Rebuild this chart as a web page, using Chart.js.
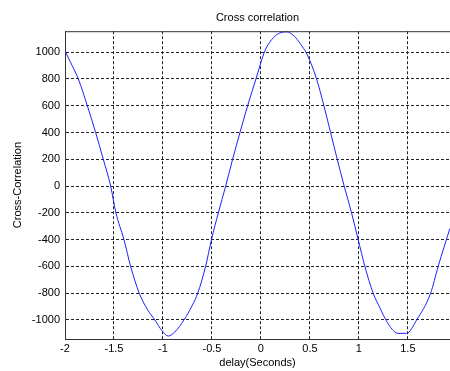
<!DOCTYPE html>
<html>
<head>
<meta charset="utf-8">
<script src="https://cdn.jsdelivr.net/npm/chart.js@4/dist/chart.umd.min.js"></script>
<style>
  html, body { margin: 0; padding: 0; background: #fff; }
  #wrap { width: 450px; height: 371px; }
</style>
</head>
<body>
<div id="wrap"><canvas id="xcorrChart"></canvas></div>
<script>
// Values
const delays = [-2.00, -1.95, -1.864, -1.772, -1.687, -1.609, -1.534, -1.48, -1.398, -1.33, -1.242, -1.16, -1.082, -1.01,
                -0.946, -0.88, -0.786, -0.70, -0.645, -0.565, -0.505, -0.435, -0.36, -0.289, -0.214, -0.136, -0.051,
                0.035, 0.09, 0.17, 0.262, 0.34, 0.40, 0.47, 0.568, 0.643, 0.711, 0.779, 0.85, 0.925, 0.993, 1.061,
                1.146, 1.215, 1.276, 1.34, 1.40, 1.487, 1.589, 1.732, 1.809, 1.929];
const xcorr = [1010, 935, 800, 600, 400, 200, 0, -200, -400, -600, -800, -920, -1000, -1080,
               -1120, -1090, -1000, -890, -800, -600, -400, -200, 0, 200, 400, 600, 800,
               1000, 1075, 1135, 1152, 1120, 1065, 985, 800, 600, 400, 200, 0, -200, -400, -600,
               -800, -910, -1000, -1070, -1100, -1100, -1000, -800, -600, -316];
const xTicks = [-2, -1.5, -1, -0.5, 0, 0.5, 1, 1.5];
const yTicks = [-1000, -800, -600, -400, -200, 0, 200, 400, 600, 800, 1000];

const font = { family: 'Liberation Sans, Arial, sans-serif', size: 11, weight: 'normal' };

// top edge of the box
const topBorder = {
    id: 'topBorder',
    afterDraw(chart) {
        const a = chart.chartArea;
        const ctx = chart.ctx;
        ctx.save();
        ctx.strokeStyle = '#333';
        ctx.lineWidth = 1;
        ctx.beginPath();
        ctx.moveTo(a.left, a.top + 0.5);
        ctx.lineTo(a.right, a.top + 0.5);
        ctx.stroke();
        ctx.restore();
    }
};

const ctx = document.getElementById('xcorrChart').getContext('2d');
new Chart(ctx, {
    type: 'line',
    data: {
        datasets: [{
            data: delays.map((d, i) => ({ x: d, y: xcorr[i] })),
            borderColor: '#2020ff',
            borderWidth: 1,
            pointRadius: 0,
            cubicInterpolationMode: 'monotone',
            fill: false
        }]
    },
    options: {
        responsive: true,
        maintainAspectRatio: false,
        animation: false,
        layout: { padding: 0 },
        plugins: {
            legend: { display: false },
            tooltip: { enabled: false },
            title: {
                display: true,
                text: 'Cross correlation',
                color: '#000',
                font: font,
                fullSize: false,
                padding: { top: 11, bottom: 7 }
            }
        },
        scales: {
            x: {
                type: 'linear',
                min: -2,
                max: 1.93,
                afterBuildTicks: s => { s.ticks = xTicks.map(v => ({ value: v })); },
                afterFit: s => { s.height = 32; },
                ticks: { color: '#000', font: font, padding: 3, maxRotation: 0, callback: v => String(v) },
                grid: { color: '#222', drawTicks: false },
                border: { color: '#333', dash: [3, 2] },
                title: { display: true, text: 'delay(Seconds)', color: '#000', font: font, padding: { top: 0, bottom: 1 } }
            },
            y: {
                min: -1142,
                max: 1157,
                afterBuildTicks: s => { s.ticks = yTicks.map(v => ({ value: v })); },
                afterFit: s => { s.width = 65; },
                ticks: { color: '#000', font: font, padding: 5, callback: v => String(v) },
                grid: { color: '#222', drawTicks: false },
                border: { color: '#333', dash: [3, 2] },
                title: { display: true, text: 'Cross-Correlation', color: '#000', font: font, padding: { top: 11, bottom: 0 } }
            }
        }
    },
    plugins: [topBorder]
});
</script>
</body>
</html>
